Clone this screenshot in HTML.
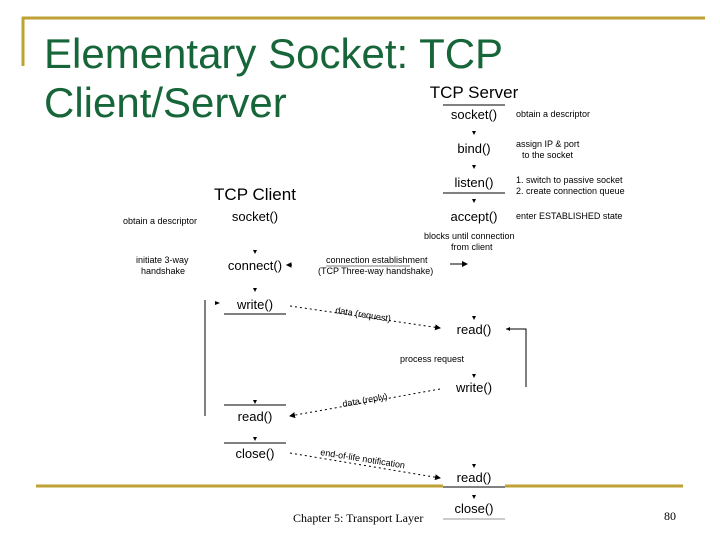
<!DOCTYPE html>
<html><head><meta charset="utf-8"><style>
html,body{margin:0;padding:0;background:#fff;}
svg{display:block;}
text{font-family:"Liberation Sans",sans-serif;fill:#000;}
</style></head><body>
<svg width="720" height="540" viewBox="0 0 720 540" xmlns="http://www.w3.org/2000/svg">
<defs>
<marker id="a" markerWidth="6" markerHeight="6" refX="5" refY="3" orient="auto" markerUnits="userSpaceOnUse"><path d="M0,0 L6,3 L0,6 z" fill="#000"/></marker>
</defs>
<line x1="22" y1="18" x2="705" y2="18" stroke="#BFA136" stroke-width="3"/>
<line x1="23" y1="17" x2="23" y2="66" stroke="#BFA136" stroke-width="3"/>
<line x1="36" y1="486" x2="443" y2="486" stroke="#BFA136" stroke-width="3"/>
<line x1="505" y1="486" x2="683" y2="486" stroke="#BFA136" stroke-width="3"/>
<text x="44" y="68" font-size="42" style="fill:#17663a">Elementary Socket: TCP</text>
<text x="44" y="117" font-size="42" style="fill:#17663a">Client/Server</text>
<text x="474" y="98" font-size="17" text-anchor="middle">TCP Server</text>
<line x1="443" y1="105" x2="505" y2="105" stroke="#000"/>
<g font-size="13" text-anchor="middle">
<text x="474" y="119">socket()</text>
<text x="474" y="153">bind()</text>
<text x="474" y="187">listen()</text>
<text x="474" y="221">accept()</text>
<text x="474" y="334">read()</text>
<text x="474" y="392">write()</text>
<text x="474" y="482">read()</text>
<text x="474" y="513">close()</text>
</g>
<line x1="443" y1="193" x2="505" y2="193" stroke="#000"/>
<line x1="443" y1="487" x2="505" y2="487" stroke="#000"/>
<line x1="443" y1="519" x2="505" y2="519" stroke="#999"/>
<g fill="#000">
<path d="M472,131 h4 l-2,4z"/><path d="M472,165 h4 l-2,4z"/><path d="M472,199 h4 l-2,4z"/>
<path d="M472,316 h4 l-2,4z"/><path d="M472,374 h4 l-2,4z"/><path d="M472,464 h4 l-2,4z"/><path d="M472,495 h4 l-2,4z"/>
<path d="M253,250 h4 l-2,4z"/><path d="M253,288 h4 l-2,4z"/><path d="M253,400 h4 l-2,4z"/><path d="M253,437 h4 l-2,4z"/>
</g>
<g font-size="9">
<text x="516" y="117">obtain a descriptor</text>
<text x="516" y="147">assign IP &amp; port</text>
<text x="522" y="158">to the socket</text>
<text x="516" y="183">1. switch to passive socket</text>
<text x="516" y="194">2. create connection queue</text>
<text x="516" y="219">enter ESTABLISHED state</text>
<text x="424" y="239">blocks until connection</text>
<text x="451" y="250">from client</text>
<text x="326" y="263">connection establishment</text>
<text x="318" y="274">(TCP Three-way handshake)</text>
<text x="123" y="224">obtain a descriptor</text>
<text x="136" y="263">initiate 3-way</text>
<text x="141" y="274">handshake</text>
<text x="400" y="362">process request</text>
</g>
<line x1="326" y1="266" x2="410" y2="266" stroke="#000" stroke-width="0.6"/>
<line x1="450" y1="264" x2="467" y2="264" stroke="#000" marker-end="url(#a)"/>
<text x="255" y="200" font-size="17" text-anchor="middle">TCP Client</text>
<g font-size="13" text-anchor="middle">
<text x="255" y="221">socket()</text>
<text x="255" y="270">connect()</text>
<text x="255" y="309">write()</text>
<text x="255" y="421">read()</text>
<text x="255" y="458">close()</text>
</g>
<path d="M287,265 h5 M287,265 l4,-2 v4z" stroke="#000" fill="#000"/>
<line x1="224" y1="314" x2="286" y2="314" stroke="#000"/>
<line x1="224" y1="405" x2="286" y2="405" stroke="#000"/>
<line x1="224" y1="443" x2="286" y2="443" stroke="#000"/>
<line x1="205" y1="300" x2="205" y2="416" stroke="#000"/>
<path d="M215,301 l5,2 l-5,2z" fill="#000"/>
<polyline points="506,329 526,329 526,387" fill="none" stroke="#000"/>
<path d="M506,329 l4,-2 v4z" fill="#000"/>
<line x1="290" y1="306" x2="440" y2="328" stroke="#000" stroke-dasharray="2,3" marker-end="url(#a)"/>
<text x="335" y="313" font-size="9" transform="rotate(9 335 313)">data (request)</text>
<line x1="440" y1="389" x2="290" y2="416" stroke="#000" stroke-dasharray="2,3" marker-end="url(#a)"/>
<text x="343" y="407" font-size="9" transform="rotate(-10 343 407)">data (reply)</text>
<line x1="290" y1="453" x2="440" y2="478" stroke="#000" stroke-dasharray="2,3" marker-end="url(#a)"/>
<text x="320" y="455" font-size="9" transform="rotate(9 320 455)">end-of-life notification</text>
<text x="293" y="522" font-size="12" style="font-family:'Liberation Serif',serif">Chapter 5: Transport Layer</text>
<text x="664" y="520" font-size="12" style="font-family:'Liberation Serif',serif">80</text>
</svg>
</body></html>
